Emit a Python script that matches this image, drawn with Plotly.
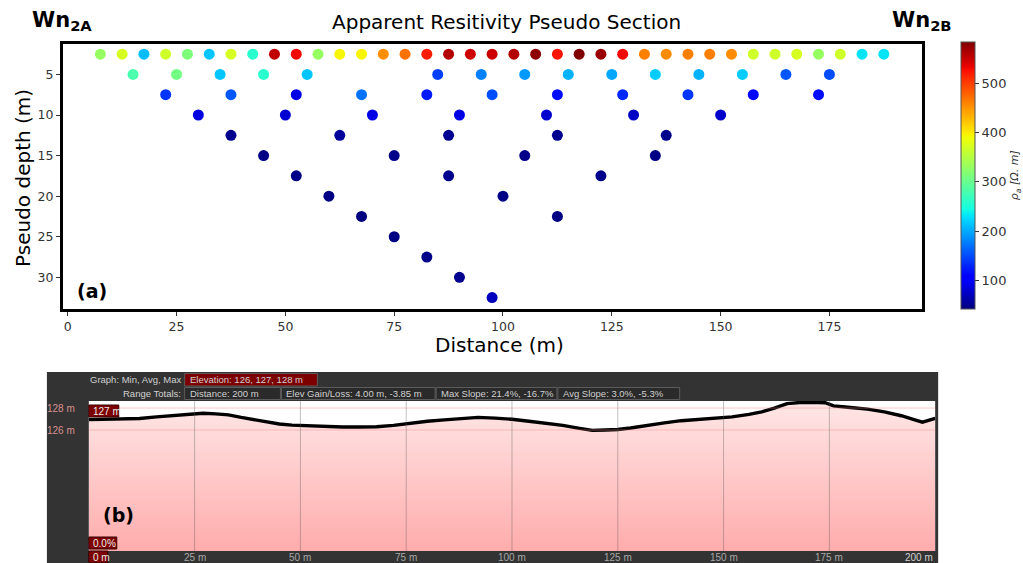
import numpy as np
import plotly.graph_objects as go

W, H = 1023, 563


def fx(p):
    return p / W


def fy(p):
    return 1 - p / H


# ---------------- Pseudo-section data (Wenner array) ----------------
# midpoint distance (m) and apparent resistivity (ohm.m) for each pseudo-depth level
depth_levels = [2.5, 5.0, 7.5, 10.0, 12.5, 15.0, 17.5, 20.0, 22.5, 25.0, 27.5, 30.0, 32.5]

x_l1 = [7.5, 12.5, 17.5, 22.5, 27.5, 32.5, 37.5, 42.5, 47.5, 52.5, 57.5, 62.5, 67.5,
        72.5, 77.5, 82.5, 87.5, 92.5, 97.5, 102.5, 107.5, 112.5, 117.5, 122.5, 127.5,
        132.5, 137.5, 142.5, 147.5, 152.5, 157.5, 162.5, 167.5, 172.5, 177.5, 182.5, 187.5]
rho_l1 = [330, 373, 211, 368, 314, 216, 373, 259, 554, 530, 330, 395, 395,
          454, 470, 519, 560, 548, 548, 560, 578, 525, 584, 572, 530,
          462, 455, 462, 462, 455, 368, 368, 373, 330, 368, 232, 232]

x_l2 = [15, 25, 35, 45, 55, 85, 95, 105, 115, 125, 135, 145, 155, 165, 175]
rho_l2 = [281, 308, 216, 259, 216, 144, 178, 192, 205, 199, 219, 205, 219, 157, 151]

x_l3 = [22.5, 37.5, 52.5, 67.5, 82.5, 97.5, 112.5, 127.5, 142.5, 157.5, 172.5]
rho_l3 = [138, 157, 91, 171, 124, 151, 117, 131, 138, 113, 117]

x_l4 = [30, 50, 70, 90, 110, 130, 150]
rho_l4 = [88, 82, 90, 90, 80, 75, 78]

x_l5 = [37.5, 62.5, 87.5, 112.5, 137.5]
rho_l5 = [50, 55, 52, 50, 48]

x_l6 = [45, 75, 105, 135]
rho_l6 = [46, 48, 47, 46]

x_l7 = [52.5, 87.5, 122.5]
rho_l7 = [47, 50, 48]

x_l8 = [60, 100]
rho_l8 = [45, 46]

x_l9 = [67.5, 112.5]
rho_l9 = [43, 45]

x_l10 = [75]
rho_l10 = [45]

x_l11 = [82.5]
rho_l11 = [48]

x_l12 = [90]
rho_l12 = [50]

x_l13 = [97.5]
rho_l13 = [72]

level_x = [x_l1, x_l2, x_l3, x_l4, x_l5, x_l6, x_l7, x_l8, x_l9, x_l10, x_l11, x_l12, x_l13]
level_rho = [rho_l1, rho_l2, rho_l3, rho_l4, rho_l5, rho_l6, rho_l7, rho_l8, rho_l9,
             rho_l10, rho_l11, rho_l12, rho_l13]

dist_tick_vals = [0, 25, 50, 75, 100, 125, 150, 175]
depth_tick_vals = [5, 10, 15, 20, 25, 30]
rho_tick_vals = [100, 200, 300, 400, 500]

# ---------------- Elevation profile data ----------------
profile_dist = [0, 4, 8, 12, 16, 20, 24, 27, 30, 33, 36, 39, 42, 45, 48, 52, 56, 60, 64,
                68, 72, 76, 80, 84, 88, 92, 96, 100, 104, 108, 112, 116, 119, 122, 125,
                128, 132, 136, 140, 144, 148, 152, 156, 159, 162, 165, 168, 171, 174,
                176, 180, 184, 188, 192, 195, 197, 200]
profile_elev = [126.95, 126.97, 127.00, 127.05, 127.20, 127.32, 127.48, 127.53, 127.47,
                127.38, 127.15, 126.95, 126.72, 126.55, 126.45, 126.38, 126.32, 126.28,
                126.28, 126.30, 126.42, 126.62, 126.80, 126.92, 127.05, 127.15, 127.08,
                126.98, 126.80, 126.62, 126.42, 126.15, 125.97, 126.00, 126.05, 126.18,
                126.45, 126.65, 126.85, 126.95, 127.10, 127.20, 127.42, 127.65, 128.00,
                128.40, 128.50, 128.53, 128.48, 128.20, 128.05, 127.90, 127.65, 127.30,
                126.95, 126.72, 127.05]
profile_dist_ticks = [25, 50, 75, 100, 125, 150, 175]
profile_elev_ticks = [128, 126]

# ---------------- matplotlib-style "jet" colour scale ----------------
jet_r = [(0, 0), (0.35, 0), (0.66, 1), (0.89, 1), (1, 0.5)]
jet_g = [(0, 0), (0.125, 0), (0.375, 1), (0.64, 1), (0.91, 0), (1, 0)]
jet_b = [(0, 0.5), (0.11, 1), (0.34, 1), (0.65, 0), (1, 0)]
stops = sorted({p for seg in (jet_r, jet_g, jet_b) for p, _ in seg})


def channel(seg, t):
    return float(np.interp(t, [p for p, _ in seg], [v for _, v in seg]))


jet = []
for t in stops:
    r, g, b = (round(255 * channel(s, t)) for s in (jet_r, jet_g, jet_b))
    jet.append([t, f"rgb({r},{g},{b})"])

xs, ys, cs = [], [], []
for d, xv, rv in zip(depth_levels, level_x, level_rho):
    xs += xv
    ys += [d] * len(xv)
    cs += rv

fig = go.Figure()

fig.add_trace(go.Scatter(
    x=xs, y=ys, mode="markers", xaxis="x", yaxis="y",
    marker=dict(
        size=11, color=cs, colorscale=jet, cmin=min(cs), cmax=max(cs),
        line=dict(width=0),
        colorbar=dict(
            x=fx(963), xanchor="left", y=fy(41.7), yanchor="top",
            len=(309 - 41.7) / H, lenmode="fraction",
            thickness=14, thicknessmode="pixels", xpad=0, ypad=0,
            outlinewidth=1, outlinecolor="#555",
            tickvals=rho_tick_vals, ticks="outside", ticklen=4, tickcolor="#333",
            tickfont=dict(family="DejaVu Sans", size=13, color="#333"),
            title=dict(text="<i>ρ<sub>a</sub> [Ω. m]</i>", side="right",
                       font=dict(family="DejaVu Sans", size=11, color="#333")),
        ),
    ),
    showlegend=False, hoverinfo="skip",
))

# elevation profile with gradient fill below the line
fig.add_trace(go.Scatter(
    x=profile_dist, y=profile_elev, mode="lines", xaxis="x2", yaxis="y2",
    line=dict(color="black", width=3.4),
    fill="tozeroy",
    fillgradient=dict(type="vertical", start=115.0, stop=128.0,
                      colorscale=[[0, "rgb(255,172,172)"], [1, "rgb(255,228,228)"]]),
    showlegend=False, hoverinfo="skip",
))

axis_font = dict(family="DejaVu Sans", size=12.5, color="#333")

fig.update_layout(
    width=W, height=H,
    margin=dict(l=0, r=0, t=0, b=0),
    paper_bgcolor="white", plot_bgcolor="white",
    xaxis=dict(domain=[fx(63), fx(923.5)], range=[-1.12, 196.2], anchor="y",
               tickvals=dist_tick_vals, ticks="outside", ticklen=4, tickcolor="#333",
               tickfont=axis_font, showline=True, linewidth=3, linecolor="black",
               mirror=True, showgrid=False, zeroline=False),
    yaxis=dict(domain=[fy(309.3), fy(43.5)], range=[33.94, 1.19], anchor="x",
               tickvals=depth_tick_vals, ticks="outside", ticklen=4, tickcolor="#333",
               tickfont=axis_font, showline=True, linewidth=3, linecolor="black",
               mirror=True, showgrid=False, zeroline=False),
    xaxis2=dict(domain=[fx(89), fx(937)], range=[0, 200], anchor="y2",
                showticklabels=False, showgrid=False, zeroline=False, showline=False,
                ticks=""),
    yaxis2=dict(domain=[fy(551), fy(401)], range=[115.0, 128.64], anchor="x2",
                showticklabels=False, showgrid=False, zeroline=False, showline=False,
                ticks=""),
)

shapes = []
# dark profile panel and its white plotting area
shapes.append(dict(type="rect", xref="paper", yref="paper", x0=fx(47), x1=fx(940),
                   y0=0, y1=fy(372), fillcolor="#333333", line=dict(width=0),
                   layer="below"))
shapes.append(dict(type="rect", xref="paper", yref="paper", x0=fx(89), x1=fx(937),
                   y0=fy(551), y1=fy(401), fillcolor="white", line=dict(width=0),
                   layer="below"))
for e in profile_elev_ticks:
    shapes.append(dict(type="line", xref="x2 domain", yref="y2", x0=0, x1=1, y0=e, y1=e,
                       line=dict(color="rgba(240,140,140,0.45)", width=1), layer="above"))
for d in profile_dist_ticks:
    shapes.append(dict(type="line", xref="x2", yref="y2 domain", x0=d, x1=d, y0=0, y1=1,
                       line=dict(color="rgba(90,90,90,0.38)", width=1), layer="above"))

ge_font = dict(family="Liberation Sans", size=9.5, color="#d0d0d0")
annotations = []

# header boxes
header_boxes = [
    (185, 318, 373.5, 386, "#7d0000", "Elevation: 126, 127, 128 m"),
    (185, 281, 387.5, 399.5, "#2a2a2a", "Distance: 200 m"),
    (282, 436, 387.5, 399.5, "#2a2a2a", "Elev Gain/Loss: 4.00 m, -3.85 m"),
    (437, 558, 387.5, 399.5, "#2a2a2a", "Max Slope: 21.4%, -16.7%"),
    (559, 681, 387.5, 399.5, "#2a2a2a", "Avg Slope: 3.0%, -5.3%"),
]
for x0, x1, y0, y1, col, txt in header_boxes:
    shapes.append(dict(type="rect", xref="paper", yref="paper", x0=fx(x0), x1=fx(x1),
                       y0=fy(y1), y1=fy(y0), fillcolor=col,
                       line=dict(color="#5c5c5c", width=1), layer="above"))
    annotations.append(dict(x=fx(x0 + 3), y=fy((y0 + y1) / 2), xref="paper", yref="paper",
                            text=txt, showarrow=False, xanchor="left", yanchor="middle",
                            font=ge_font))
annotations.append(dict(x=fx(183), y=fy(380), xref="paper", yref="paper",
                        text="Graph: Min, Avg, Max", showarrow=False, xanchor="right",
                        yanchor="middle", font=ge_font))
annotations.append(dict(x=fx(183), y=fy(393.5), xref="paper", yref="paper",
                        text="Range Totals:", showarrow=False, xanchor="right",
                        yanchor="middle", font=ge_font))

# small red value tags
tags = [
    (89, 119, 405, 417, "127 m"),
    (89, 117, 537, 549, "0.0%"),
    (89, 108, 551, 563, "0 m"),
]
for x0, x1, y0, y1, txt in tags:
    shapes.append(dict(type="rect", xref="paper", yref="paper", x0=fx(x0), x1=fx(x1),
                       y0=fy(y1), y1=fy(y0), fillcolor="#7d0000",
                       line=dict(color="#3a0000", width=1), layer="above"))
    annotations.append(dict(x=fx(x0 + 2), y=fy((y0 + y1) / 2), xref="paper", yref="paper",
                            text=txt, showarrow=False, xanchor="left", yanchor="middle",
                            font=dict(family="Liberation Sans", size=10, color="#eeeeee")))

# profile axis labels
for e in profile_elev_ticks:
    annotations.append(dict(x=fx(77), y=e, xref="paper", yref="y2", text=f"{e} m",
                            showarrow=False, xanchor="right", yanchor="middle",
                            font=dict(family="Liberation Sans", size=10, color="#d89090")))
for d in profile_dist_ticks:
    annotations.append(dict(x=d, y=fy(557.5), xref="x2", yref="paper", text=f"{d} m",
                            showarrow=False, xanchor="center", yanchor="middle",
                            font=dict(family="Liberation Sans", size=10, color="#a8a8a8")))
annotations.append(dict(x=200, y=fy(557.5), xref="x2", yref="paper", text="200 m",
                        showarrow=False, xanchor="right", yanchor="middle",
                        font=dict(family="Liberation Sans", size=10, color="#d0d0d0")))

# titles and panel labels
title_font = dict(family="DejaVu Sans", size=20, color="black")
annotations += [
    dict(x=fx(507.5), y=fy(22), xref="paper", yref="paper",
         text="Apparent Resitivity Pseudo Section", showarrow=False,
         xanchor="center", yanchor="middle", font=title_font),
    dict(x=fx(30), y=fy(21), xref="paper", yref="paper",
         text="<b>Wn<sub>2A</sub></b>", showarrow=False, xanchor="left", yanchor="middle",
         font=dict(family="DejaVu Sans", size=21, color="black")),
    dict(x=fx(956), y=fy(21), xref="paper", yref="paper",
         text="<b>Wn<sub>2B</sub></b>", showarrow=False, xanchor="right", yanchor="middle",
         font=dict(family="DejaVu Sans", size=21, color="black")),
    dict(x=fx(23), y=fy(178), xref="paper", yref="paper", text="Pseudo depth (m)",
         textangle=-90, showarrow=False, xanchor="center", yanchor="middle",
         font=title_font),
    dict(x=fx(500), y=fy(332), xref="paper", yref="paper", text="Distance (m)",
         showarrow=False, xanchor="center", yanchor="top", borderpad=0,
         font=title_font),
    dict(x=fx(92), y=fy(291), xref="paper", yref="paper", text="<b>(a)</b>",
         showarrow=False, xanchor="center", yanchor="middle",
         font=dict(family="DejaVu Sans", size=19, color="black")),
    dict(x=fx(119), y=fy(515), xref="paper", yref="paper", text="<b>(b)</b>",
         showarrow=False, xanchor="center", yanchor="middle",
         font=dict(family="DejaVu Sans", size=19, color="black")),
]

fig.update_layout(shapes=shapes, annotations=annotations)
fig.write_html("out.html")
